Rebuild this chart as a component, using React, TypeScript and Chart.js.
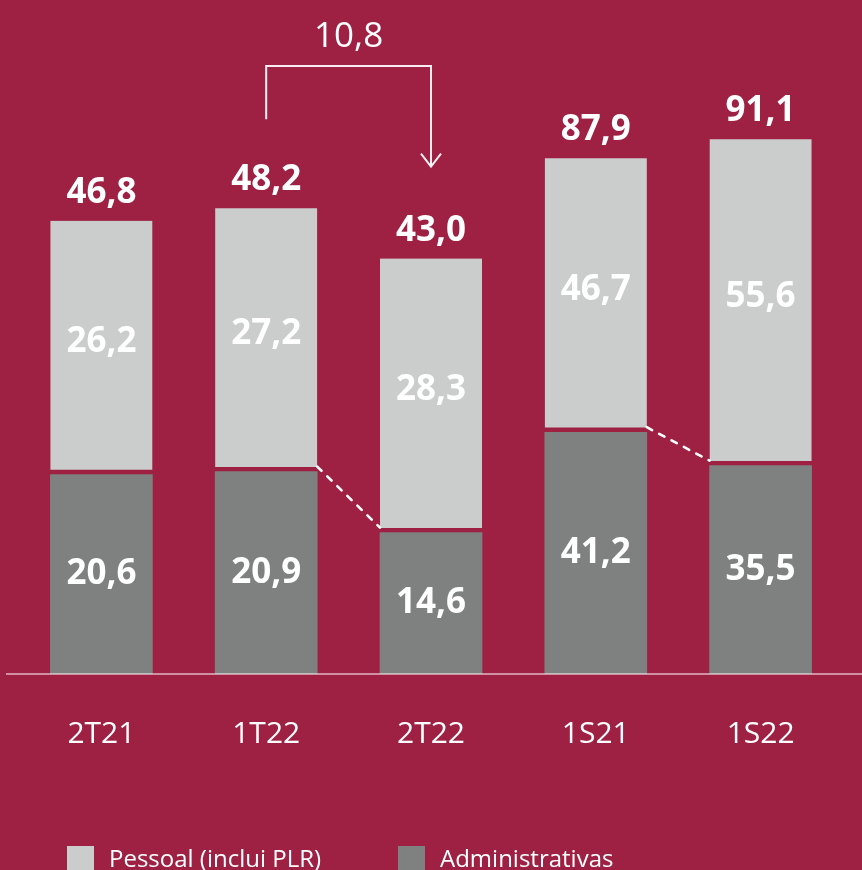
import React, { useEffect, useRef } from 'react';
import { Chart, registerables } from 'chart.js';

Chart.register(...registerables);

// ---- data ----
const categories = ['2T21', '1T22', '2T22', '1S21', '1S22'];
// T = quarter (own scale), S = semester (own scale)
const periodKind = ['T', 'T', 'T', 'S', 'S'];
const pessoal = [26.2, 27.2, 28.3, 46.7, 55.6];
const administrativas = [20.6, 20.9, 14.6, 41.2, 35.5];
const totals = [46.8, 48.2, 43.0, 87.9, 91.1];
const connectors = [
  [1, 2],
  [3, 4],
];
const variation = { from: 1, to: 2, value: 10.8 };
const legendLabels = ['Pessoal (inclui PLR)', 'Administrativas'];

// ---- styles ----
const BG = '#9E2144';
const LIGHT = '#CBCDCC';
const DARK = '#7F8180';
const FONT = '"Open Sans", "Noto Sans", sans-serif';

const fmt = (v: number) => v.toFixed(1).replace('.', ',');

const overlayPlugin = {
  id: 'overlay',
  afterDatasetsDraw(chart: any) {
    const ctx = chart.ctx as CanvasRenderingContext2D;
    const el = (kind: 'adm' | 'pes', i: number) => {
      const base = periodKind[i] === 'T' ? 0 : 2;
      const ds = kind === 'adm' ? base : base + 1;
      return chart.getDatasetMeta(ds).data[i].getProps(['x', 'y', 'base', 'width'], true);
    };
    const GAP = 5;
    ctx.save();

    // baseline
    const y0 = chart.scales.y.getPixelForValue(0);
    ctx.strokeStyle = 'rgba(255,255,255,0.5)';
    ctx.lineWidth = 2;
    ctx.beginPath();
    ctx.moveTo(6, y0);
    ctx.lineTo(chart.width, y0);
    ctx.stroke();

    // labels
    ctx.fillStyle = '#ffffff';
    ctx.textAlign = 'center';
    for (let i = 0; i < categories.length; i++) {
      const a = el('adm', i);
      const p = el('pes', i);
      ctx.font = `bold 35px ${FONT}`;
      ctx.textBaseline = 'alphabetic';
      ctx.fillText(fmt(totals[i]), p.x, p.y - 18);
      ctx.textBaseline = 'middle';
      ctx.fillText(fmt(pessoal[i]), p.x, (p.y + p.base - GAP) / 2 - 3);
      ctx.fillText(fmt(administrativas[i]), a.x, (a.y + a.base) / 2);
    }

    // dashed connectors
    ctx.strokeStyle = '#ffffff';
    ctx.lineWidth = 2.6;
    ctx.lineCap = 'round';
    ctx.setLineDash([6, 8]);
    for (const [l, r] of connectors) {
      const pl = el('pes', l);
      const pr = el('pes', r);
      ctx.beginPath();
      ctx.moveTo(pl.x + pl.width / 2, pl.base - GAP);
      ctx.lineTo(pr.x - pr.width / 2, pr.base - GAP);
      ctx.stroke();
    }
    ctx.setLineDash([]);

    // variation bracket
    const pf = el('pes', variation.from);
    const pt = el('pes', variation.to);
    const topY = 66;
    ctx.lineWidth = 2;
    ctx.lineCap = 'butt';
    ctx.strokeStyle = 'rgba(255,255,255,0.92)';
    ctx.beginPath();
    ctx.moveTo(pf.x, pf.y - 89);
    ctx.lineTo(pf.x, topY);
    ctx.lineTo(pt.x, topY);
    ctx.lineTo(pt.x, pt.y - 92);
    ctx.stroke();
    ctx.beginPath();
    ctx.moveTo(pt.x - 10, pt.y - 92 - 13);
    ctx.lineTo(pt.x, pt.y - 92);
    ctx.lineTo(pt.x + 10, pt.y - 92 - 13);
    ctx.stroke();
    ctx.fillStyle = '#ffffff';
    ctx.font = `35px ${FONT}`;
    ctx.textBaseline = 'alphabetic';
    ctx.fillText(fmt(variation.value), (pf.x + pt.x) / 2, topY - 19);

    // legend
    const legendColors = [LIGHT, DARK];
    const legendX = [67, 398];
    const boxY = 846;
    const box = 27;
    ctx.font = `24px ${FONT}`;
    ctx.textAlign = 'left';
    ctx.textBaseline = 'alphabetic';
    legendLabels.forEach((t, i) => {
      ctx.fillStyle = legendColors[i];
      ctx.fillRect(legendX[i], boxY, box, box);
      ctx.fillStyle = '#ffffff';
      ctx.fillText(t, legendX[i] + 42, boxY + 21);
    });
    ctx.restore();
  },
};

export default function App() {
  const ref = useRef<HTMLCanvasElement | null>(null);
  useEffect(() => {
    if (!ref.current) return;
    const pick = (arr: number[], kind: string) =>
      arr.map((v, i) => (periodKind[i] === kind ? v : null));
    const pesBorder = { top: 0, right: 0, bottom: 5, left: 0 };
    const chart = new Chart(ref.current, {
      type: 'bar',
      data: {
        labels: categories,
        datasets: [
          {
            label: 'Administrativas',
            data: pick(administrativas, 'T'),
            yAxisID: 'y',
            stack: 's',
            backgroundColor: DARK,
            borderWidth: 0,
          },
          {
            label: 'Pessoal (inclui PLR)',
            data: pick(pessoal, 'T'),
            yAxisID: 'y',
            stack: 's',
            backgroundColor: LIGHT,
            borderColor: BG,
            borderWidth: pesBorder,
            borderSkipped: false,
          },
          {
            label: 'Administrativas',
            data: pick(administrativas, 'S'),
            yAxisID: 'y1',
            stack: 's',
            backgroundColor: DARK,
            borderWidth: 0,
          },
          {
            label: 'Pessoal (inclui PLR)',
            data: pick(pessoal, 'S'),
            yAxisID: 'y1',
            stack: 's',
            backgroundColor: LIGHT,
            borderColor: BG,
            borderWidth: pesBorder,
            borderSkipped: false,
          },
        ] as any,
      },
      options: {
        responsive: false,
        animation: false,
        layout: { padding: { top: 93, left: 19, right: 19, bottom: 83 } },
        datasets: { bar: { barThickness: 102 } } as any,
        plugins: {
          legend: { display: false },
          tooltip: { enabled: false },
        },
        scales: {
          x: {
            stacked: true,
            grid: { display: false },
            border: { display: false },
            ticks: {
              color: '#ffffff',
              font: { family: FONT, size: 30 },
              padding: 34.5,
            },
          },
          y: { stacked: true, display: false, min: 0, max: 60 },
          y1: { stacked: true, display: false, min: 0, max: 99 },
        },
      },
      plugins: [overlayPlugin],
    });
    return () => chart.destroy();
  }, []);
  return (
    <div style={{ position: 'fixed', left: 0, top: 0, right: 0, bottom: 0, background: BG }}>
      <canvas ref={ref} width={862} height={870} style={{ display: 'block' }} />
    </div>
  );
}
